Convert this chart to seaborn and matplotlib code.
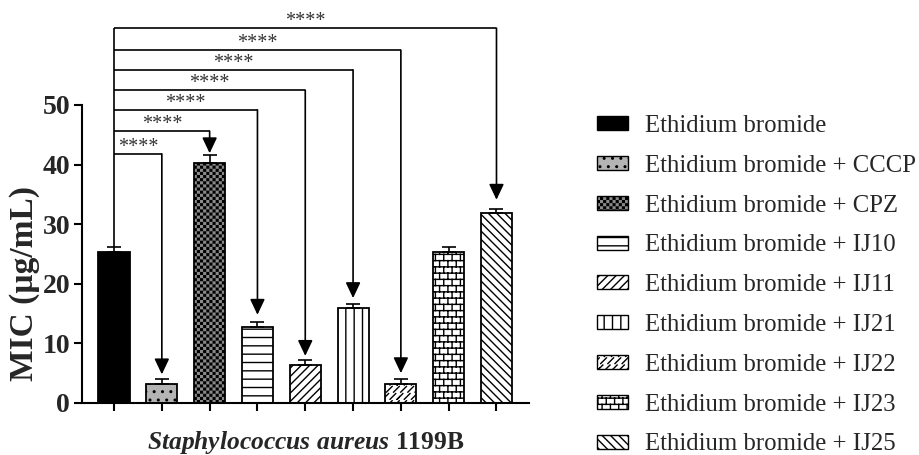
import warnings
warnings.filterwarnings("ignore")

import numpy as np
import pandas as pd
import matplotlib
matplotlib.use("Agg")
import matplotlib.pyplot as plt
import matplotlib.hatch as mhatch
from matplotlib.path import Path
from matplotlib.patches import Patch
import seaborn as sns

# ---------------- data ----------------
categories = [
    "Ethidium bromide",
    "Ethidium bromide + CCCP",
    "Ethidium bromide + CPZ",
    "Ethidium bromide + IJ10",
    "Ethidium bromide + IJ11",
    "Ethidium bromide + IJ21",
    "Ethidium bromide + IJ22",
    "Ethidium bromide + IJ23",
    "Ethidium bromide + IJ25",
]
mic_values = [25.3, 3.2, 40.3, 12.7, 6.3, 16.0, 3.2, 25.3, 31.9]
mic_errors = [0.9, 0.8, 1.3, 0.9, 0.9, 0.6, 0.8, 0.9, 0.6]
compared_bars = [1, 2, 3, 4, 5, 6, 8]
significance = ["****", "****", "****", "****", "****", "****", "****"]
y_ticks = [0, 10, 20, 30, 40, 50]
x_title_italic = "Staphylococcus\\ aureus"
x_title_plain = "1199B"
y_title = "MIC (\u00b5g/mL)"

# ---------------- custom hatches (checkerboard 'c', brick 'b', zigzag 'z') ----------------
def _wrap_vertical(x, y0, y1):
    segs = []
    if y1 <= 1.0:
        segs.append(((x, y0), (x, y1)))
    else:
        segs.append(((x, y0), (x, 1.0)))
        segs.append(((x, 0.0), (x, y1 - 1.0)))
    return segs


class CheckerHatch(mhatch.HatchPatternBase):
    def __init__(self, hatch, density):
        self.n = 32 if hatch.count("c") else 0
        self.num_vertices = (self.n * self.n // 2) * 5

    def set_vertices_and_codes(self, vertices, codes):
        n = self.n
        cell = 1.0 / n
        s = cell * 0.55
        off = (cell - s) / 2
        idx = 0
        for i in range(n):
            for j in range(n):
                if (i + j) % 2 == 0:
                    x0 = i * cell + off
                    y0 = j * cell + off
                    vertices[idx:idx + 5] = [(x0, y0), (x0 + s, y0), (x0 + s, y0 + s),
                                             (x0, y0 + s), (x0, y0)]
                    codes[idx:idx + 5] = [Path.MOVETO, Path.LINETO, Path.LINETO,
                                          Path.LINETO, Path.CLOSEPOLY]
                    idx += 5


class _SegHatch(mhatch.HatchPatternBase):
    def set_vertices_and_codes(self, vertices, codes):
        for i, (a, b) in enumerate(self.segs):
            vertices[2 * i] = a
            vertices[2 * i + 1] = b
            codes[2 * i] = Path.MOVETO
            codes[2 * i + 1] = Path.LINETO


class BrickHatch(_SegHatch):
    def __init__(self, hatch, density):
        self.segs = []
        if hatch.count("b"):
            rows, cols = 16, 12
            h = 1.0 / rows
            w = 1.0 / cols
            for r in range(rows):
                y = r * h + h * 0.3
                self.segs.append(((0.0, y), (1.0, y)))
                off = w * 0.25 if r % 2 == 0 else w * 0.75
                for k in range(cols):
                    x = k * w + off
                    self.segs.extend(_wrap_vertical(x, y, y + h))
        self.num_vertices = len(self.segs) * 2


class ZigzagHatch(_SegHatch):
    """Diagonal '/' strokes broken into staggered pieces."""
    def __init__(self, hatch, density):
        self.segs = []
        if hatch.count("z"):
            n = 14
            rows = 14
            step = 1.0 / n
            rh = 1.0 / rows
            for r in range(rows):
                y0 = r * rh + rh * 0.1
                y1 = y0 + rh * 0.8
                shift = step * 0.5 if r % 2 else 0.0
                for k in range(n + 1):
                    x0 = k * step + shift - rh * 0.4
                    self.segs.append(((x0, y0), (x0 + rh * 0.8, y1)))
                    if x0 < 0:
                        self.segs.append(((x0 + 1, y0), (x0 + 1 + rh * 0.8, y1)))
        self.num_vertices = len(self.segs) * 2


mhatch._hatch_types.extend([CheckerHatch, BrickHatch, ZigzagHatch])

# ---------------- style ----------------
sns.set_theme(style="ticks")
plt.rcParams["font.family"] = ["Liberation Serif", "DejaVu Serif"]
plt.rcParams["mathtext.fontset"] = "custom"
plt.rcParams["mathtext.it"] = "Liberation Serif:italic:bold"
plt.rcParams["mathtext.rm"] = "Liberation Serif:bold"
plt.rcParams["hatch.linewidth"] = 1.0

face_colors = ["#000000", "#b4b4b4", "#8a8a8a", "#ffffff", "#ffffff",
               "#ffffff", "#ffffff", "#ffffff", "#ffffff"]
hatches = [None, "..", "c", "--", "////", "||", "z", "b", "\\\\\\\\"]

df = pd.DataFrame({"condition": categories, "mic": mic_values})

fig = plt.figure(figsize=(9.19, 4.55), dpi=100)
ax = fig.add_axes([82 / 919, 1 - 403 / 455, (529 - 82) / 919, (403 - 105) / 455])

sns.barplot(data=df, x="condition", y="mic", hue="condition", order=categories,
            hue_order=categories, palette=face_colors, width=0.65,
            edgecolor="black", linewidth=1.3, errorbar=None, legend=False,
            saturation=1, ax=ax)

for patch, h in zip(ax.patches, hatches):
    if h:
        patch.set_hatch(h)

xpos = np.arange(len(categories))
ax.errorbar(xpos, mic_values, yerr=[np.zeros(len(categories)), mic_errors],
            fmt="none", ecolor="black", elinewidth=1.2, capsize=5, capthick=1.2,
            zorder=3)

ax.set_xlim(-0.67, 8.68)
ax.set_ylim(0, 50)
ax.set_yticks(y_ticks)
ax.set_yticklabels([str(t) for t in y_ticks], fontweight="bold", fontsize=20)
ax.set_xticks(xpos)
ax.set_xticklabels([])
ax.tick_params(axis="both", direction="out", length=5.5, width=1.5, color="black",
               pad=3)
for side in ("top", "right"):
    ax.spines[side].set_visible(False)
for side in ("left", "bottom"):
    ax.spines[side].set_linewidth(1.5)
    ax.spines[side].set_color("black")

ax.set_xlabel("$\\mathit{" + x_title_italic + "}$ " + x_title_plain,
              fontsize=18.4, fontweight="bold", labelpad=10)
ax.set_ylabel(y_title, fontsize=24, fontweight="bold")
ax.yaxis.set_label_coords(-0.093, 0.40)

# ---------------- significance brackets ----------------
bracket_levels = [41.8, 45.6, 49.2, 52.5, 55.9, 59.2, 62.9]
arrow_gaps = [0.8, 0.3, 1.2, 0.7, 1.0, 1.0, 1.6]
ref_top = mic_values[0] + mic_errors[0]
line_kw = dict(color="black", lw=1.2, clip_on=False, solid_capstyle="butt")
ax.plot([0, 0], [ref_top, max(bracket_levels)], **line_kw)
for tgt, lvl, gap, sig in zip(compared_bars, bracket_levels, arrow_gaps, significance):
    ax.plot([0, tgt], [lvl, lvl], **line_kw)
    tip = mic_values[tgt] + mic_errors[tgt] + gap
    ax.annotate("", xy=(tgt, tip), xytext=(tgt, lvl), annotation_clip=False,
                arrowprops=dict(arrowstyle="-|>,head_length=0.95,head_width=0.45",
                                color="black", lw=1.2, shrinkA=0, shrinkB=0,
                                mutation_scale=10))
    ax.text(tgt / 2, lvl + 0.3, sig, ha="center", va="baseline", fontsize=14.5,
            color="#333333", clip_on=False)

# ---------------- legend ----------------
handles = [Patch(facecolor=fc, edgecolor="black", hatch=h, linewidth=1.0, label=c)
           for fc, h, c in zip(face_colors, hatches, categories)]
fig.legend(handles=handles, loc="upper left", bbox_to_anchor=(597 / 919, 1 - 115 / 455),
           frameon=False, fontsize=17.8, handlelength=1.25, handleheight=0.5,
           handletextpad=0.7, labelspacing=0.72, borderpad=0, borderaxespad=0)

fig.savefig("out.png", dpi=100)
